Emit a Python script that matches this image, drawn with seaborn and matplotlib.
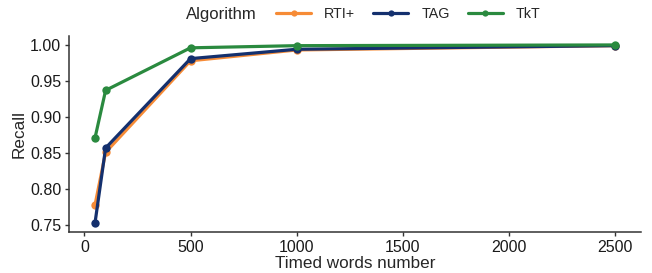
import matplotlib
matplotlib.use("Agg")
import matplotlib.pyplot as plt
import seaborn as sns
import pandas as pd
from matplotlib.offsetbox import HPacker

words = [50, 100, 500, 1000, 2500]
rti = [0.778, 0.851, 0.978, 0.993, 0.999]
tag = [0.753, 0.857, 0.981, 0.994, 0.999]
tkt = [0.871, 0.937, 0.996, 0.999, 1.000]
algos = ["RTI+", "TAG", "TkT"]
colors = ["#F68B36", "#14306E", "#2A8A3F"]
xticks = [0, 500, 1000, 1500, 2000, 2500]
yticks = [0.75, 0.80, 0.85, 0.90, 0.95, 1.00]

rows = []
for name, vals in zip(algos, [rti, tag, tkt]):
    for w, v in zip(words, vals):
        rows.append({"Timed words number": w, "Recall": v, "Algorithm": name})
df = pd.DataFrame(rows)

sns.set_style("white")
plt.rcParams['font.family'] = ['Liberation Sans', 'DejaVu Sans']

fig = plt.figure(figsize=(6.52, 2.73), dpi=100)
ax = fig.add_axes([69/652, 41/273, 572/652, 196/273])
sns.lineplot(data=df, x="Timed words number", y="Recall", hue="Algorithm",
             palette=dict(zip(algos, colors)), marker="o", markersize=6,
             markeredgewidth=0, linewidth=2.3, ax=ax)
ax.set_xlim(-72.5, 2622.5)
ax.set_ylim(0.7405, 1.0124)
ax.set_xticks(xticks)
ax.set_yticks(yticks)
ax.set_yticklabels([f"{v:.2f}" for v in yticks])
ax.tick_params(labelsize=11.5, labelcolor="#1a1a1a", length=3, width=1,
               color="#333333", bottom=True, left=True, pad=2.5)
ax.set_xlabel("Timed words number", fontsize=12.3, labelpad=1)
ax.set_ylabel("Recall", fontsize=12.3)
ax.yaxis.set_label_coords((27 - 69) / 572, 0.5)
for s in ["top", "right"]:
    ax.spines[s].set_visible(False)
for s in ["left", "bottom"]:
    ax.spines[s].set_color("#333333")
    ax.spines[s].set_linewidth(1.1)

handles, labels = ax.get_legend_handles_labels()
ax.legend_.remove()
leg = fig.legend(handles, labels, title="Algorithm", ncol=3, loc="center left",
                 bbox_to_anchor=(186/652, 1 - 14/273), frameon=False, fontsize=10.3,
                 title_fontsize=12, handlelength=2.45, columnspacing=1.26,
                 handletextpad=0.9, borderpad=0, borderaxespad=0)
title = leg._legend_box._children[0]
body = leg._legend_box._children[1]
leg._legend_box._children = [HPacker(children=[title, body], align="center", pad=0, sep=14)]
for h in leg.legend_handles:
    h.set_markersize(4.5)

fig.savefig("out.png", dpi=100)
